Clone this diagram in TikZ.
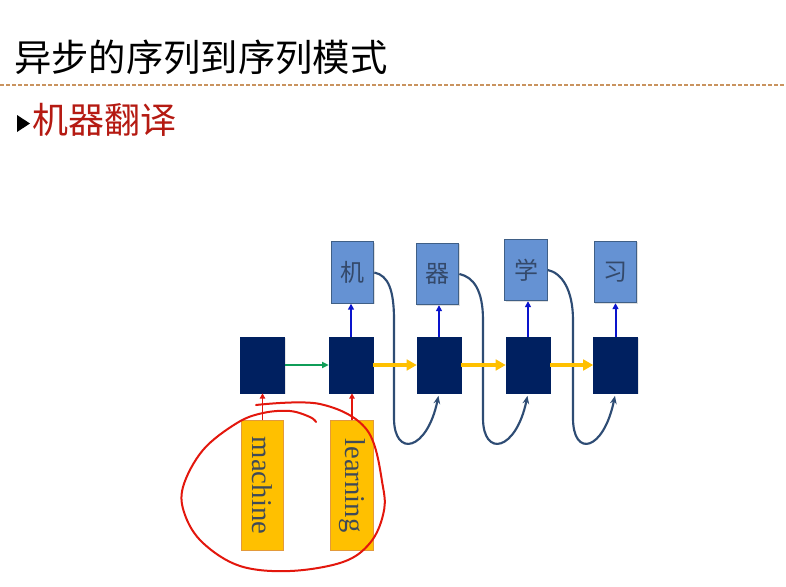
\documentclass[tikz,border=0pt]{standalone}
\usepackage{fontspec}
\setmainfont{Liberation Serif}
\newfontfamily\cjk{Noto Sans CJK SC}
\usetikzlibrary{arrows.meta,shadows}
\definecolor{navy}{HTML}{002060}
\definecolor{outfill}{HTML}{6592D3}
\definecolor{outline}{HTML}{3F5F86}
\definecolor{outtext}{HTML}{34496A}
\definecolor{gold}{HTML}{FFC000}
\definecolor{goldline}{HTML}{E39A3B}
\definecolor{intext}{HTML}{3F4A58}
\definecolor{loopred}{HTML}{E3170D}
\definecolor{backblue}{HTML}{2E4C74}
\definecolor{stepgreen}{HTML}{0F9D58}
\definecolor{upblue}{HTML}{0A14CC}
\definecolor{rulebrown}{HTML}{C9935F}
\definecolor{topicred}{HTML}{B51A12}
\tikzset{
  hbox/.style={draw=navy,fill=navy,minimum width=33pt,minimum height=42pt,inner sep=0pt,
    drop shadow={shadow xshift=0.8pt,shadow yshift=-0.8pt,opacity=0.2}},
  obox/.style={draw=outline,fill=outfill,line width=0.8pt,minimum width=32pt,minimum height=46pt,inner sep=0pt,
    text=outtext,font=\cjk\fontsize{18}{18}\selectfont,
    drop shadow={shadow xshift=0.8pt,shadow yshift=-0.8pt,opacity=0.25}},
  ibox/.style={draw=goldline,fill=gold,line width=0.6pt,minimum width=32pt,minimum height=97pt,inner sep=0pt,
    text=intext,font=\fontsize{21.5}{21.5}\selectfont},
  iarr/.style={-{Triangle[length=4pt,width=4pt]},line width=1.2pt,draw=loopred},
  sarr/.style={-{Triangle[length=5pt,width=4.5pt]},line width=1.5pt,draw=stepgreen},
  carr/.style={-{Triangle[length=7.5pt,width=8pt]},line width=3pt,draw=gold},
  oarr/.style={-{Triangle[length=4.5pt,width=4.5pt]},line width=1.5pt,draw=upblue},
  farr/.style={-{Stealth[length=6pt,width=5pt]},line width=1.6pt,draw=backblue,shorten >=2pt}
}
\begin{document}
\begin{tikzpicture}[x=0.75pt,y=-0.75pt]
  \path[fill=white,use as bounding box] (0,0) rectangle (786,586);
  \node[anchor=west,inner sep=0pt,font=\cjk\fontsize{28}{28}\selectfont] (title) at (14,57) {异步的序列到序列模式};
  \draw[rulebrown,line width=0.8pt,dash pattern=on 3pt off 1.5pt] (0,85) -- (786,85);
  \fill (17,115) -- (30,123.5) -- (17,132) -- cycle;
  \node[anchor=west,inner sep=0pt,text=topicred,font=\cjk\fontsize{27}{27}\selectfont] (topic) at (32,120) {机器翻译};
  \foreach \i/\x in {1/262.5,2/351,3/439,4/528,5/615.5}
    \node[hbox] (h\i) at (\x,365) {};
  \foreach \i/\x/\y/\w in {1/352.5/272.5/机,2/437.5/274/器,3/526/270/学,4/615.5/272/习}
    \node[obox] (o\i) at (\x,\y) {\w};
  \node[ibox] (x1) at (262.5,485.5) {\rotatebox{-90}{machine}};
  \node[ibox] (x2) at (352,485.5) {\rotatebox{-90}{learning}};
  \foreach \i/\j/\d in {1/3/394,2/4/483,3/5/573}
    \draw[farr] (o\i.east) .. controls +(14,3) and (\d,290) .. (\d,320) -- (\d,418)
      .. controls (\d,458) and +(-12,58) .. (h\j.south);
  \draw[iarr] (x1) -- (h1);
  \draw[iarr] (x2.north) -- (x2.north |- h2.south);
  \draw[sarr] (h1) -- (h2);
  \foreach \i/\j in {2/3,3/4,4/5}
    \draw[carr] (h\i) -- (h\j);
  \foreach \i/\j in {1/2,2/3,3/4,4/5}
    \draw[oarr] (h\j.north) -- (h\j.north |- o\i.south);
  \draw[loopred,line width=1.5pt,line cap=round] plot[smooth,tension=0.6] coordinates {(256,405) (320,404) (367,430) (383,487) (383,515) (370,543) (343,562) (290,571) (240,566) (203,543) (185,515) (183,487) (203,450) (237,423) (263,413) (290,411) (310,417) (316,422)};
\end{tikzpicture}
\end{document}
